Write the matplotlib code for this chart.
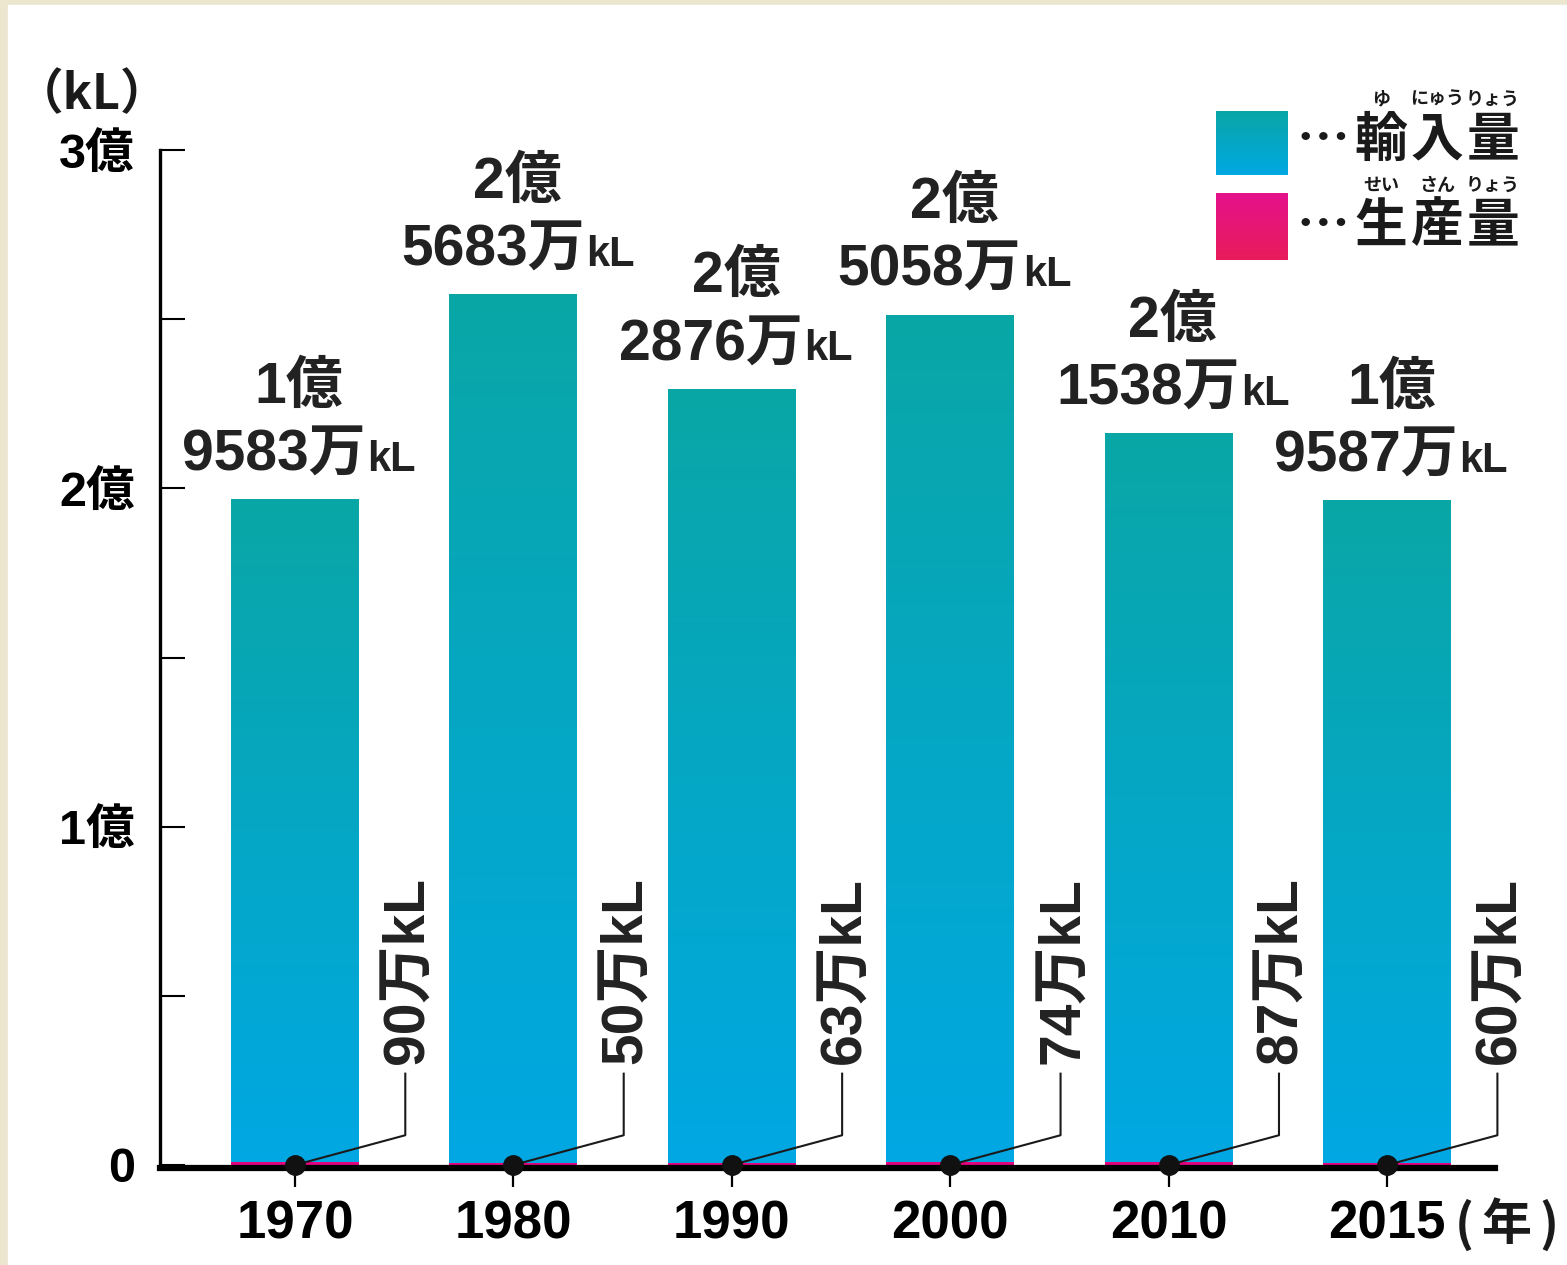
import numpy as np
import matplotlib
matplotlib.use('Agg')
import matplotlib.pyplot as plt
from matplotlib.patches import Rectangle
from matplotlib.offsetbox import TextArea, HPacker, VPacker, AnnotationBbox

plt.rcParams['font.family'] = ['Liberation Sans', 'Noto Sans CJK JP', 'DejaVu Sans']
LAB = ['Liberation Sans', 'Noto Sans CJK JP', 'DejaVu Sans']

# data (万kL)
years = ['1970', '1980', '1990', '2000', '2010', '2015']
imports = [19583, 25683, 22876, 25058, 21538, 19587]
production = [90, 50, 63, 74, 87, 60]
ytick_vals = [0, 1, 2, 3]
ytick_labels = ['0', '1億', '2億', '3億']

W, H = 1567, 1265
fig = plt.figure(figsize=(W / 100, H / 100), dpi=100)
fig.patch.set_facecolor('#ece6cf')

# background / legend layer in pixel coords
bg = fig.add_axes([0, 0, 1, 1])
bg.set_xlim(0, W)
bg.set_ylim(H, 0)
bg.axis('off')
bg.add_patch(Rectangle((8, 5), W, H, color='white', zorder=0))

def vgrad(c_top, c_bot, n=256):
    t = np.linspace(0, 1, n)[:, None]
    c_top = np.array(matplotlib.colors.to_rgb(c_top))
    c_bot = np.array(matplotlib.colors.to_rgb(c_bot))
    return (c_top * (1 - t) + c_bot * t)[:, None, :]

teal_blue = vgrad('#0aa6a6', '#00a8e3')
pinks = vgrad('#e5118c', '#e81c5a')

ax = fig.add_axes([160 / W, (H - 1165) / H, (1495 - 160) / W, (1165 - 150) / H])
ax.set_zorder(2)
ax.patch.set_alpha(0)

x = np.arange(len(years))
imp = np.array(imports) / 10000
prod = np.array(production) / 10000
w = 0.586

ax.bar(x, prod, w, color='#e5007f', zorder=3)
bars = ax.bar(x, imp, w, bottom=prod, color='none', zorder=2)
for b in bars:
    x0, y0 = b.get_x(), b.get_y()
    im = ax.imshow(teal_blue, extent=[x0, x0 + b.get_width(), y0, y0 + b.get_height()],
                   aspect='auto', origin='upper', zorder=2)
    im.set_clip_path(b)
ax.set_xlim(-0.618, 5.494)
ax.set_ylim(0, 3)

# spines & ticks
for s in ['top', 'right']:
    ax.spines[s].set_visible(False)
ax.spines['left'].set_linewidth(2.4)
ax.spines['bottom'].set_linewidth(4.5)
ax.spines['bottom'].set_position(('outward', 2))
ax.spines['bottom'].set_zorder(6)
ax.spines['left'].set_zorder(6)
ax.set_yticks(ytick_vals)
ax.set_yticklabels(ytick_labels)
ax.set_yticks([0.5, 1.5, 2.5], minor=True)
ax.tick_params(axis='y', which='both', direction='in', length=18, width=1.5, pad=18,
               labelsize=35)
for t in ax.get_yticklabels():
    t.set_fontweight('bold')
ax.set_xticks(x)
ax.set_xticklabels(years)
ax.tick_params(axis='x', direction='out', length=14, width=1.6, pad=9, labelsize=38)
for t in ax.get_xticklabels():
    t.set_fontweight('bold')

ax.plot(x, np.zeros(len(x)), 'o', color='#111111', ms=14, clip_on=False, zorder=7)

# top value labels
for xi, v, total in zip(x, imports, imp + prod):
    oku, man = divmod(v, 10000)
    props = dict(fontsize=41, fontweight='bold', family=LAB, color='#222222')
    small = dict(fontsize=30, fontweight='bold', family=LAB, color='#222222')
    line1 = TextArea(f'{oku}億', textprops=props)
    line2 = HPacker(children=[TextArea(f'{man}万', textprops=props),
                              TextArea('kL', textprops=small)],
                    align='baseline', pad=0, sep=1)
    box = VPacker(children=[line1, line2], align='center', pad=0, sep=10)
    ab = AnnotationBbox(box, (xi, total), xybox=(3, 12), xycoords='data',
                        boxcoords='offset points', box_alignment=(0.5, 0),
                        frameon=False, annotation_clip=False)
    ax.add_artist(ab)

# production labels with leader lines
for xi, p in zip(x, production):
    ax.plot([xi, xi + 0.505, xi + 0.505], [0, 0.088, 0.27], color='#1a1a1a',
            lw=1.5, zorder=6, clip_on=False)
    ax.text(xi + 0.52, 0.30, f'{p}万kL', rotation=90, ha='center', va='bottom',
            fontsize=41, fontweight='bold', family=LAB, color='#222222', zorder=6)

# unit labels
bg.text(15, 95, '（kL）', ha='left', va='center', fontsize=35, fontweight='bold',
        family=['Noto Sans CJK JP', 'DejaVu Sans'], color='#1a1a1a')
unit_font = dict(fontsize=36, fontweight='bold', color='#1a1a1a',
                 family=['Noto Sans CJK JP', 'DejaVu Sans'])
bg.text(1464, 1226, '(', ha='center', va='center', **unit_font)
bg.text(1506, 1226, '年', ha='center', va='center', **unit_font)
bg.text(1549, 1226, ')', ha='center', va='center', **unit_font)

# legend
bg.imshow(teal_blue, extent=[1216, 1288, 175, 111], aspect='auto', zorder=3)
bg.imshow(pinks, extent=[1216, 1288, 260, 193], aspect='auto', zorder=3)
bg.set_xlim(0, W)
bg.set_ylim(H, 0)
jp = dict(family=['Noto Sans CJK JP', 'DejaVu Sans'], color='#1a1a1a', fontweight='bold')
for yy, chars, rubies in [(140, '輸入量', ['ゆ', 'にゅう', 'りょう']),
                          (226, '生産量', ['せい', 'さん', 'りょう'])]:
    bg.text(1323, yy, '…', ha='center', va='center', fontsize=38, zorder=4, **jp)
    for cx, ch, rb in zip([1381, 1437, 1493], chars, rubies):
        bg.text(cx, yy, ch, ha='center', va='center', fontsize=38, zorder=4, **jp)
        bg.text(cx, yy - 41, rb, ha='center', va='center', fontsize=13, zorder=4, **jp)

fig.savefig('out.png', dpi=100, facecolor=fig.get_facecolor())
